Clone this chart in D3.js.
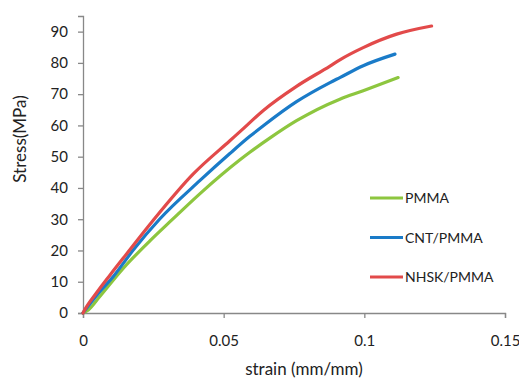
<!DOCTYPE html>
<html>
<head>
<meta charset="utf-8">
<script src="https://cdnjs.cloudflare.com/ajax/libs/d3/7.8.5/d3.min.js"></script>
<style>
  body { margin: 0; background: #fff; }
  text { font-family: Lato, "Open Sans", sans-serif; fill: #222; }
</style>
</head>
<body>
<div id="chart-area"></div>
<script>
// strain (mm/mm), stress (MPa)
const pmmaStrain = [0, 0.0019, 0.0059, 0.0142, 0.0237, 0.0314, 0.0416, 0.0558, 0.0593, 0.0665, 0.0759, 0.0913, 0.0996, 0.1120];
const pmmaStress = [0, 1.0, 5.2, 14.2, 23.0, 29.6, 38.2, 49.0, 51.4, 56.0, 61.5, 68.4, 71.1, 75.3];

const cntStrain = [0, 0.0008, 0.0050, 0.0107, 0.0180, 0.0272, 0.0416, 0.0522, 0.0593, 0.0641, 0.0759, 0.0878, 0.0913, 0.0996, 0.1109];
const cntStress = [0, 1.0, 5.8, 11.6, 20.3, 30.0, 42.4, 51.0, 56.5, 59.9, 67.6, 73.7, 75.3, 79.1, 82.8];

const nhskStrain = [0, 0.0006, 0.0047, 0.0095, 0.0154, 0.0249, 0.0392, 0.0522, 0.0558, 0.0641, 0.0759, 0.0878, 0.0913, 0.0996, 0.1115, 0.1239];
const nhskStress = [0, 1.0, 6.3, 12.0, 18.8, 29.6, 44.5, 55.1, 58.0, 64.8, 72.5, 79.0, 81.0, 84.9, 89.2, 91.8];

const seriesNames = ['PMMA', 'CNT/PMMA', 'NHSK/PMMA'];
const seriesColors = ['#8dc63f', '#1a7bc8', '#e24a4a'];

const xTicks = [0, 0.05, 0.1, 0.15];
const yTicks = [0, 10, 20, 30, 40, 50, 60, 70, 80, 90];

const series = [
    {name: seriesNames[0], color: seriesColors[0], xs: pmmaStrain, ys: pmmaStress},
    {name: seriesNames[1], color: seriesColors[1], xs: cntStrain, ys: cntStress},
    {name: seriesNames[2], color: seriesColors[2], xs: nhskStrain, ys: nhskStress}
];

const width = 519, height = 381;

const svg = d3.select('#chart-area')
    .append('svg')
    .attr('width', width)
    .attr('height', height);

const xScale = d3.scaleLinear()
    .domain([0, 0.15])
    .range([83, 505]);

const yScale = d3.scaleLinear()
    .domain([0, 95])
    .range([313, 16]);

const xAxisCall = d3.axisBottom(xScale)
    .tickValues(xTicks)
    .tickSize(5)
    .tickPadding(17)
    .tickFormat(d => d === 0 ? '0' : String(d));

const xAxis = svg.append('g')
    .attr('transform', 'translate(0, ' + yScale(0) + ')')
    .call(xAxisCall);

const yAxisCall = d3.axisLeft(yScale)
    .tickValues(yTicks)
    .tickSize(5)
    .tickPadding(10);

const yAxis = svg.append('g')
    .attr('transform', 'translate(' + xScale(0) + ', 0)')
    .call(yAxisCall);

[xAxis, yAxis].forEach(ax => {
    ax.select('.domain').attr('stroke', '#888').attr('stroke-width', 1.3);
    ax.selectAll('.tick line').attr('stroke', '#888').attr('stroke-width', 1.3);
    ax.selectAll('.tick text')
        .attr('font-size', '15px')
        .attr('font-family', 'Lato, "Open Sans", sans-serif')
        .attr('fill', '#222');
});

// axis titles
svg.append('text')
    .text('strain (mm/mm)')
    .attr('x', 304)
    .attr('y', 375)
    .attr('text-anchor', 'middle')
    .attr('font-size', '17px');

svg.append('text')
    .text('Stress(MPa)')
    .attr('transform', 'rotate(-90)')
    .attr('x', -139)
    .attr('y', 26)
    .attr('text-anchor', 'middle')
    .attr('font-size', '17px');

const line = d3.line()
    .curve(d3.curveMonotoneX)
    .x(d => xScale(d[0]))
    .y(d => yScale(d[1]));

series.forEach(s => {
    svg.append('path')
        .datum(s.xs.map((x, i) => [x, s.ys[i]]))
        .attr('fill', 'none')
        .attr('stroke', s.color)
        .attr('stroke-width', 3.2)
        .attr('stroke-linejoin', 'round')
        .attr('stroke-linecap', 'round')
        .attr('d', line);
});

// legend
const legend = svg.append('g')
    .attr('transform', 'translate(370, 198)');

series.forEach((s, i) => {
    const row = legend.append('g')
        .attr('transform', 'translate(0, ' + (i * 39.5) + ')');

    row.append('line')
        .attr('x1', 0)
        .attr('x2', 33)
        .attr('stroke', s.color)
        .attr('stroke-width', 3.2);

    row.append('text')
        .attr('x', 35)
        .attr('y', 5)
        .attr('font-size', '14px')
        .text(s.name);
});
</script>
</body>
</html>
